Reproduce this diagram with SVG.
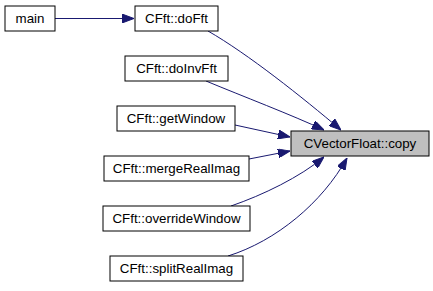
<svg xmlns="http://www.w3.org/2000/svg" width="433" height="291" viewBox="0 0 433 291">
  <style>
    .node rect { fill: #ffffff; stroke: #000000; stroke-width: 1; }
    .node.focus rect { fill: #bfbfbf; }
    .node text { font-family: "Liberation Sans", Arial, Helvetica, sans-serif; font-size: 13.33px; fill: #000000; text-anchor: middle; }
    .edge { fill: none; stroke: #191970; stroke-width: 1; marker-end: url(#arrow); }
  </style>
  <defs>
    <marker id="arrow" viewBox="0 0 12 9" refX="12" refY="4.5" markerWidth="12" markerHeight="9" markerUnits="userSpaceOnUse" orient="auto">
      <path d="M0,0 L12,4.5 L0,9 z" fill="#191970" stroke="#191970" stroke-width="1"/>
    </marker>
  </defs>

  <!-- call edges -->
  <g id="edges">
    <path class="edge" d="M55,18.5 L134,18.5"/>
    <path class="edge" d="M208,31 C248,54 302,97 341,130"/>
    <path class="edge" d="M206,81 C242,96 292,115 324,130"/>
    <path class="edge" d="M235,125 L290,137"/>
    <path class="edge" d="M249,159 L290,151"/>
    <path class="edge" d="M231,206 C263,195 300,177 324,157"/>
    <path class="edge" d="M228,256 C276,241 322,203 347,158"/>
  </g>

  <g id="node-main" class="node">
    <rect x="5" y="6" width="50" height="25"/>
    <text x="30" y="23">main</text>
  </g>
  <g id="node-doFft" class="node">
    <rect x="135" y="6" width="83" height="25"/>
    <text x="176.5" y="23">CFft::doFft</text>
  </g>
  <g id="node-doInvFft" class="node">
    <rect x="125" y="56" width="103" height="25"/>
    <text x="176.5" y="73">CFft::doInvFft</text>
  </g>
  <g id="node-getWindow" class="node">
    <rect x="117" y="106" width="118" height="25"/>
    <text x="176" y="123">CFft::getWindow</text>
  </g>
  <g id="node-copy" class="node focus">
    <rect x="291" y="131" width="138" height="25"/>
    <text x="360" y="148">CVectorFloat::copy</text>
  </g>
  <g id="node-mergeRealImag" class="node">
    <rect x="104" y="156" width="145" height="25"/>
    <text x="176.5" y="173">CFft::mergeRealImag</text>
  </g>
  <g id="node-overrideWindow" class="node">
    <rect x="103" y="206" width="147" height="25"/>
    <text x="176.5" y="223">CFft::overrideWindow</text>
  </g>
  <g id="node-splitRealImag" class="node">
    <rect x="110" y="256" width="133" height="25"/>
    <text x="176.5" y="273">CFft::splitRealImag</text>
  </g>
</svg>
